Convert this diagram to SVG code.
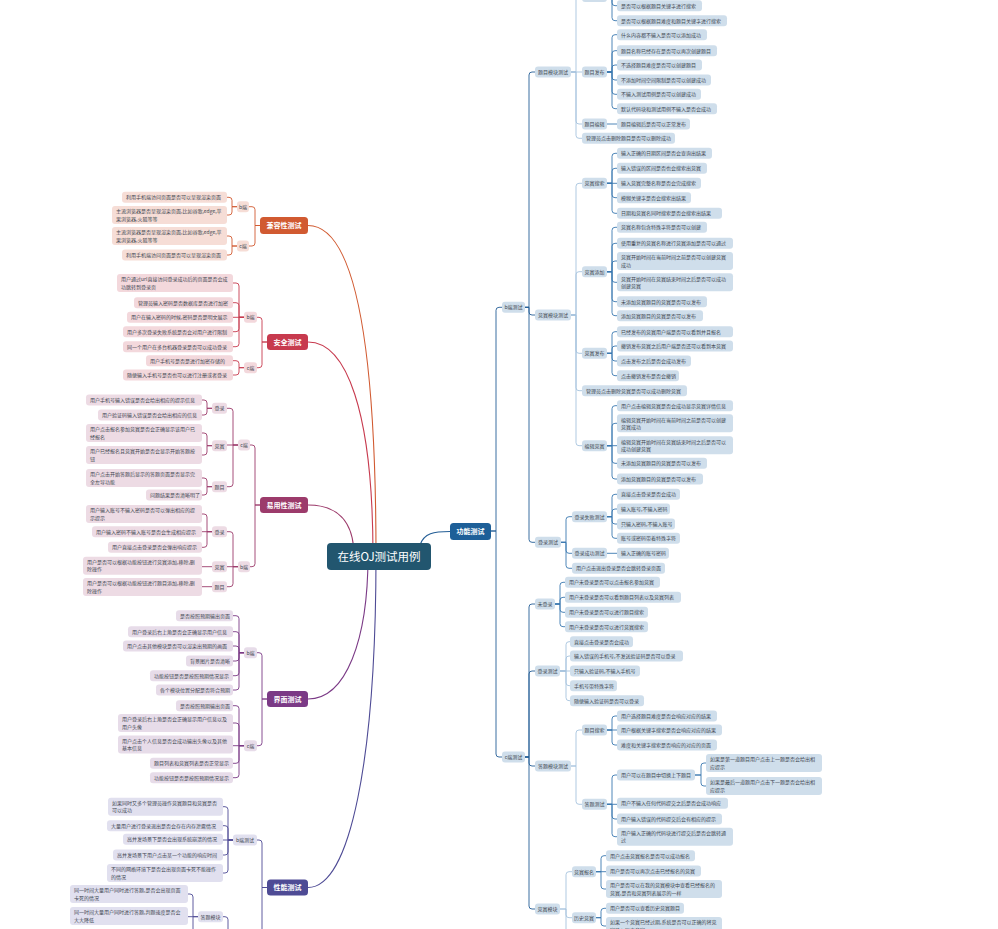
<svg xmlns="http://www.w3.org/2000/svg" width="998" height="929" viewBox="0 0 998 929">
<style>
text{font-family:"Noto Sans CJK SC","Noto Sans",sans-serif;}
.t{font-size:5px;fill:#3d4650;}
.tm{font-size:5px;fill:#3d4650;text-anchor:middle;}
.m{font-size:7px;fill:#fff;font-weight:bold;text-anchor:middle;}
.r{fill:#cfdeeb;}
.k{fill:#f6ddd6;}
.s{fill:#f3d8dc;}
.u{fill:#eddbe4;}
.i{fill:#e7dce9;}
.p{fill:#e1e0ef;}
.ln{fill:none;stroke-width:0.9;}
.mn{fill:none;stroke-width:1.1;}
.cd{stroke:#245e96;}
.cl{stroke:#a6c3de;}
.cm{stroke:#3a78b0;}
.ck{stroke:#d15a31;}
.cs{stroke:#c73a4e;}
.cu{stroke:#9c3b6b;}
.ci{stroke:#7b3a86;}
.cp{stroke:#4e4b95;}
</style>
<g id="connectors">
<path class="mn cd" d="M420 545C424 533 434 531.5 450 531.5"/>
<path class="mn ck" d="M308 225.5C352 225.5 376 330 376 556"/>
<path class="mn cs" d="M308 342C346 342 373 410 373 556"/>
<path class="mn cu" d="M308 505C336 505 354 520 354 556"/>
<path class="mn ci" d="M308 699C346 699 368 640 368 556"/>
<path class="mn cp" d="M308 887.5C350 887.5 376 760 376 556"/>
<path class="ln cd" d="M491 531H496V310.3Q496 307.3 499 307.3H502M491 531H496V754Q496 757 499 757H502M525 307.3H529V75Q529 72 532 72H535M525 307.3H529V312Q529 315 532 315H535M525 307.3H529V539.3Q529 542.3 532 542.3H535M525 757H529V607Q529 604 532 604H535M525 757H529V674Q529 671 532 671H535M525 757H529V763Q529 766 532 766H535M525 757H529V906Q529 909 532 909H535"/>
<path class="ln cl" d="M571 72H576V-0.5Q576 -3.5 579 -3.5H582M571 72H582M571 72H576V121Q576 124 579 124H582M571 72H576V135.3Q576 138.3 579 138.3H582M571 315H576V186.3Q576 183.3 579 183.3H582M571 315H576V274.7Q576 271.7 579 271.7H582M571 315H576V350.3Q576 353.3 579 353.3H582M571 315H576V387.7Q576 390.7 579 390.7H582M571 315H576V442.7Q576 445.7 579 445.7H582M571 766H576V733Q576 730 579 730H582M571 766H576V801.3Q576 804.3 579 804.3H582M560 671H566V644.7Q566 641.7 569 641.7H570M560 671H566V659Q566 656 569 656H570M560 671H570M560 671H566V682.7Q566 685.7 569 685.7H570M560 671H566V697.7Q566 700.7 569 700.7H570M560 909H566V874.7Q566 871.7 569 871.7H572M560 909H566V914.7Q566 917.7 569 917.7H572M566 909V935"/>
<path class="ln cm" d="M612 -15V2.7Q612 5.7 615 5.7H617M612 -15V17.7Q612 20.7 615 20.7H617M607 72H612V37.7Q612 34.7 615 34.7H617M607 72H612V53.7Q612 50.7 615 50.7H617M607 72H612V68Q612 65 615 65H617M607 72H612V77Q612 80 615 80H617M607 72H612V91.3Q612 94.3 615 94.3H617M607 72H612V105.7Q612 108.7 615 108.7H617M607 124H617M607 183.3H612V156.3Q612 153.3 615 153.3H617M607 183.3H612V171.3Q612 168.3 615 168.3H617M607 183.3H617M607 183.3H612V194.7Q612 197.7 615 197.7H617M607 183.3H612V210.3Q612 213.3 615 213.3H617M607 271.7H612V230.3Q612 227.3 615 227.3H617M607 271.7H612V246.3Q612 243.3 615 243.3H617M607 271.7H612V264Q612 261 615 261H617M607 271.7H612V279.3Q612 282.3 615 282.3H617M607 271.7H612V298.7Q612 301.7 615 301.7H617M607 271.7H612V312.7Q612 315.7 615 315.7H617M607 353.3H612V334.7Q612 331.7 615 331.7H617M607 353.3H612V349Q612 346 615 346H617M607 353.3H612V358Q612 361 615 361H617M607 353.3H612V372.7Q612 375.7 615 375.7H617M607 445.7H612V408.7Q612 405.7 615 405.7H617M607 445.7H612V426.3Q612 423.3 615 423.3H617M607 445.7H617M607 445.7H612V460.3Q612 463.3 615 463.3H617M607 445.7H612V476Q612 479 615 479H617M561 542.3H566V519.7Q566 516.7 569 516.7H572M561 542.3H566V550.3Q566 553.3 569 553.3H572M561 542.3H566V565.3Q566 568.3 569 568.3H572M607 516.7H612V497.3Q612 494.3 615 494.3H617M607 516.7H612V512Q612 509 615 509H617M607 516.7H612V521Q612 524 615 524H617M607 516.7H612V535.3Q612 538.3 615 538.3H617M607 553.3H617M555 604H560V585.3Q560 582.3 563 582.3H565M555 604H560V600.3Q560 597.3 563 597.3H565M555 604H560V609.3Q560 612.3 563 612.3H565M555 604H560V623.7Q560 626.7 563 626.7H565M607 730H612V719Q612 716 615 716H617M607 730H617M607 730H612V742Q612 745 615 745H617M607 804.3H612V778Q612 775 615 775H617M607 804.3H617M607 804.3H612V816Q612 819 615 819H617M607 804.3H612V833.7Q612 836.7 615 836.7H617M695 775H701V766Q701 763 704 763H706M695 775H701V783Q701 786 704 786H706M596 871.7H601V858.7Q601 855.7 604 855.7H606M596 871.7H606M596 871.7H601V886Q601 889 604 889H606M596 917.7H601V911.3Q601 908.3 604 908.3H606M596 917.7H601V923Q601 926 604 926H606"/>
<path class="ln ck" d="M260 225.5H255V209.7Q255 206.7 252 206.7H249M260 225.5H255V243Q255 246 252 246H249M237 206.7H232V200.3Q232 197.3 229 197.3H227M237 206.7H232V212Q232 215 229 215H227M237 246H232V239Q232 236 229 236H227M237 246H232V252Q232 255 229 255H227"/>
<path class="ln cs" d="M267 342H262V320.3Q262 317.3 259 317.3H257M267 342H262V364.7Q262 367.7 259 367.7H257M244 317.3H239V286Q239 283 236 283H233M244 317.3H239V305.7Q239 302.7 236 302.7H233M244 317.3H233M244 317.3H239V328.7Q239 331.7 236 331.7H233M244 317.3H239V343.7Q239 346.7 236 346.7H233M244 367.7H239V363.7Q239 360.7 236 360.7H233M244 367.7H239V372Q239 375 236 375H233"/>
<path class="ln cu" d="M260 505H255V448Q255 445 252 445H250M260 505H255V563.7Q255 566.7 252 566.7H250M238 445H233V411.3Q233 408.3 230 408.3H227M238 445H227M238 445H233V483.7Q233 486.7 230 486.7H227M212 408.3H207V403Q207 400 204 400H202M212 408.3H207V412Q207 415 204 415H202M212 445.7H207V436Q207 433 204 433H202M212 445.7H207V452Q207 455 204 455H202M212 486.7H207V481Q207 478 204 478H202M212 486.7H207V492Q207 495 204 495H202M238 566.7H233V534.7Q233 531.7 230 531.7H227M238 566.7H227M238 566.7H233V583.7Q233 586.7 230 586.7H227M212 531.7H207V517Q207 514 204 514H202M212 531.7H202M212 531.7H207V544.3Q207 547.3 204 547.3H202M212 566.7H202M212 586.7H202"/>
<path class="ln ci" d="M267 699H262V655.7Q262 652.7 259 652.7H257M267 699H262V742.7Q262 745.7 259 745.7H257M244 652.7H239V618.7Q239 615.7 236 615.7H233M244 652.7H239V634.7Q239 631.7 236 631.7H233M244 652.7H239V649Q239 646 236 646H233M244 652.7H239V658Q239 661 236 661H233M244 652.7H239V672.7Q239 675.7 236 675.7H233M244 652.7H239V687Q239 690 236 690H233M244 745.7H239V708.7Q239 705.7 236 705.7H233M244 745.7H239V726Q239 723 236 723H233M244 745.7H233M244 745.7H239V760.3Q239 763.3 236 763.3H233M244 745.7H239V774.7Q239 777.7 236 777.7H233"/>
<path class="ln cp" d="M267 887.5H262V843Q262 840 259 840H257M267 887.5H262V935M233 840H228V809.7Q228 806.7 225 806.7H223M233 840H228V828.7Q228 825.7 225 825.7H223M233 840H223M233 840H228V852Q228 855 225 855H223M233 840H228V870Q228 873 225 873H223M223 916.7H225Q228 916.7 228 919.7V935M198 916.7H193V897Q193 894 190 894H188M198 916.7H188M193 916.7V935"/>
</g>
<g id="root"><rect x="327" y="543" width="104" height="27" rx="4" fill="#22566f"/><text x="379" y="560.5" font-size="11.5" fill="#fff" text-anchor="middle">在线OJ测试用例</text></g>
<g id="func"><rect x="450" y="523" width="41" height="17" rx="3.5" fill="#1d5f98"/><text class="m" x="470.5" y="534">功能测试</text></g>
<g id="compat"><rect x="260" y="217" width="48" height="17" rx="3.5" fill="#d15a31"/><text class="m" x="284" y="228">兼容性测试</text></g>
<g id="security"><rect x="267" y="334" width="41" height="16" rx="3.5" fill="#c73a4e"/><text class="m" x="287.5" y="344.5">安全测试</text></g>
<g id="usability"><rect x="260" y="497" width="48" height="16" rx="3.5" fill="#9c3b6b"/><text class="m" x="284" y="507.5">易用性测试</text></g>
<g id="ui"><rect x="267" y="691" width="41" height="16" rx="3.5" fill="#7b3a86"/><text class="m" x="287.5" y="701.5">界面测试</text></g>
<g id="perf"><rect x="267" y="879.5" width="41" height="16" rx="3.5" fill="#4e4b95"/><text class="m" x="287.5" y="890">性能测试</text></g>

<g id="r-b"><rect class="r" x="502" y="301.8" width="23" height="11" rx="3"/><text class="tm" x="513.5" y="309.1">b端测试</text></g>
<g id="r-c"><rect class="r" x="502" y="751.5" width="23" height="11" rx="3"/><text class="tm" x="513.5" y="758.8">c端测试</text></g>
<g id="r-tmmod"><rect class="r" x="535" y="66.5" width="36" height="11" rx="3"/><text class="tm" x="553" y="73.8">题目模块测试</text></g>
<g id="r-tmsearch-top"><rect class="r" x="582" y="-9" width="25" height="11" rx="3"/></g>
<g id="r-ts1"><rect class="r" x="617" y="0.2" width="85" height="11" rx="3"/><text class="t" x="621" y="7.5">是否可以根据题目关键字进行搜索</text></g>
<g id="r-ts2"><rect class="r" x="617" y="15.2" width="110" height="11" rx="3"/><text class="t" x="621" y="22.5">是否可以根据题目难度和题目关键字进行搜索</text></g>
<g id="r-tpub"><rect class="r" x="582" y="66.5" width="25" height="11" rx="3"/><text class="tm" x="594.5" y="73.8">题目发布</text></g>
<g id="r-tp1"><rect class="r" x="617" y="29.2" width="90" height="11" rx="3"/><text class="t" x="621" y="36.5">什么内容都不输入是否可以添加成功</text></g>
<g id="r-tp2"><rect class="r" x="617" y="45.2" width="100" height="11" rx="3"/><text class="t" x="621" y="52.5">题目名称已经存在是否可以再次创建题目</text></g>
<g id="r-tp3"><rect class="r" x="617" y="59.5" width="85" height="11" rx="3"/><text class="t" x="621" y="66.8">不选择题目难度是否可以创建题目</text></g>
<g id="r-tp4"><rect class="r" x="617" y="74.5" width="94" height="11" rx="3"/><text class="t" x="621" y="81.8">不添加时间空间限制是否可以创建成功</text></g>
<g id="r-tp5"><rect class="r" x="617" y="88.8" width="84" height="11" rx="3"/><text class="t" x="621" y="96.1">不输入测试用例是否可以创建成功</text></g>
<g id="r-tp6"><rect class="r" x="617" y="103.2" width="100" height="11" rx="3"/><text class="t" x="621" y="110.5">默认代码块和测试用例不输入是否会成功</text></g>
<g id="r-tedit"><rect class="r" x="582" y="118.5" width="25" height="11" rx="3"/><text class="tm" x="594.5" y="125.8">题目编辑</text></g>
<g id="r-te1"><rect class="r" x="617" y="118.5" width="73" height="11" rx="3"/><text class="t" x="621" y="125.8">题目编辑后是否可以正常发布</text></g>
<g id="r-tdel"><rect class="r" x="582" y="132.8" width="93" height="11" rx="3"/><text class="t" x="586" y="140.1">管理员点击删除题目是否可以删除成功</text></g>

<g id="r-cmod"><rect class="r" x="535" y="309.5" width="36" height="11" rx="3"/><text class="tm" x="553" y="316.8">竞赛模块测试</text></g>
<g id="r-csearch"><rect class="r" x="582" y="177.8" width="25" height="11" rx="3"/><text class="tm" x="594.5" y="185.1">竞赛搜索</text></g>
<g id="r-cs1"><rect class="r" x="617" y="147.8" width="95" height="11" rx="3"/><text class="t" x="621" y="155.1">输入正确的日期区间是否会查询出结果</text></g>
<g id="r-cs2"><rect class="r" x="617" y="162.8" width="90" height="11" rx="3"/><text class="t" x="621" y="170.1">输入错误的区间是否也会搜索出竞赛</text></g>
<g id="r-cs3"><rect class="r" x="617" y="177.8" width="84" height="11" rx="3"/><text class="t" x="621" y="185.1">输入竞赛完整名称是否会完成搜索</text></g>
<g id="r-cs4"><rect class="r" x="617" y="192.2" width="74" height="11" rx="3"/><text class="t" x="621" y="199.5">模糊关键字是否会搜索出结果</text></g>
<g id="r-cs5"><rect class="r" x="617" y="207.8" width="105" height="11" rx="3"/><text class="t" x="621" y="215.1">日期和竞赛名同时搜索是否会搜索出结果</text></g>
<g id="r-cadd"><rect class="r" x="582" y="266.2" width="25" height="11" rx="3"/><text class="tm" x="594.5" y="273.5">竞赛添加</text></g>
<g id="r-ca1"><rect class="r" x="617" y="221.8" width="90" height="11" rx="3"/><text class="t" x="621" y="229.1">竞赛名称包含特殊字符是否可以创建</text></g>
<g id="r-ca2"><rect class="r" x="617" y="237.8" width="116" height="11" rx="3"/><text class="t" x="621" y="245.1">使用重复的竞赛名称进行竞赛添加是否可以通过</text></g>
<g id="r-ca3"><rect class="r" x="617" y="252" width="116" height="18" rx="3"/><text class="t" x="621" y="259.3">竞赛开始时间在当前时间之前是否可以创建竞赛</text><text class="t" x="621" y="266.5">成功</text></g>
<g id="r-ca4"><rect class="r" x="617" y="273.3" width="116" height="18" rx="3"/><text class="t" x="621" y="280.6">竞赛开始时间在竞赛结束时间之后是否可以成功</text><text class="t" x="621" y="287.8">创建竞赛</text></g>
<g id="r-ca5"><rect class="r" x="617" y="296.2" width="90" height="11" rx="3"/><text class="t" x="621" y="303.5">未添加竞赛题目的竞赛是否可以发布</text></g>
<g id="r-ca6"><rect class="r" x="617" y="310.2" width="86" height="11" rx="3"/><text class="t" x="621" y="317.5">添加竞赛题目的竞赛是否可以发布</text></g>
<g id="r-cpub"><rect class="r" x="582" y="347.8" width="25" height="11" rx="3"/><text class="tm" x="594.5" y="355.1">竞赛发布</text></g>
<g id="r-cp1"><rect class="r" x="617" y="326.2" width="116" height="11" rx="3"/><text class="t" x="621" y="333.5">已经发布的竞赛用户端是否可以看到并且报名</text></g>
<g id="r-cp2"><rect class="r" x="617" y="340.5" width="116" height="11" rx="3"/><text class="t" x="621" y="347.8">撤销发布竞赛之后用户端是否还可以看到本竞赛</text></g>
<g id="r-cp3"><rect class="r" x="617" y="355.5" width="74" height="11" rx="3"/><text class="t" x="621" y="362.8">点击发布之后是否会成功发布</text></g>
<g id="r-cp4"><rect class="r" x="617" y="370.2" width="62" height="11" rx="3"/><text class="t" x="621" y="377.5">点击撤销发布是否会撤销</text></g>
<g id="r-cdel"><rect class="r" x="582" y="385.2" width="105" height="11" rx="3"/><text class="t" x="586" y="392.5">管理员点击删除竞赛是否可以成功删除竞赛</text></g>
<g id="r-cedit"><rect class="r" x="582" y="440.2" width="25" height="11" rx="3"/><text class="tm" x="594.5" y="447.5">编辑竞赛</text></g>
<g id="r-ce1"><rect class="r" x="617" y="400.2" width="116" height="11" rx="3"/><text class="t" x="621" y="407.5">用户点击编辑竞赛是否会成功显示竞赛详情信息</text></g>
<g id="r-ce2"><rect class="r" x="617" y="414.3" width="116" height="18" rx="3"/><text class="t" x="621" y="421.6">编辑竞赛开始时间在当前时间之前是否可以创建</text><text class="t" x="621" y="428.8">竞赛成功</text></g>
<g id="r-ce3"><rect class="r" x="617" y="436.3" width="116" height="18" rx="3"/><text class="t" x="621" y="443.6">编辑竞赛开始时间在竞赛结束时间之后是否可以</text><text class="t" x="621" y="450.8">成功创建竞赛</text></g>
<g id="r-ce4"><rect class="r" x="617" y="457.8" width="90" height="11" rx="3"/><text class="t" x="621" y="465.1">未添加竞赛题目的竞赛是否可以发布</text></g>
<g id="r-ce5"><rect class="r" x="617" y="473.5" width="86" height="11" rx="3"/><text class="t" x="621" y="480.8">添加竞赛题目的竞赛是否可以发布</text></g>

<g id="r-blogin"><rect class="r" x="535" y="536.8" width="26" height="11" rx="3"/><text class="tm" x="548" y="544.1">登录测试</text></g>
<g id="r-lfail"><rect class="r" x="572" y="511.2" width="35" height="11" rx="3"/><text class="tm" x="589.5" y="518.5">登录失败测试</text></g>
<g id="r-lf1"><rect class="r" x="617" y="488.8" width="63" height="11" rx="3"/><text class="t" x="621" y="496.1">直接点击登录是否会成功</text></g>
<g id="r-lf2"><rect class="r" x="617" y="503.5" width="53" height="11" rx="3"/><text class="t" x="621" y="510.8">输入账号,不输入密码</text></g>
<g id="r-lf3"><rect class="r" x="617" y="518.5" width="58" height="11" rx="3"/><text class="t" x="621" y="525.8">只输入密码,不输入账号</text></g>
<g id="r-lf4"><rect class="r" x="617" y="532.8" width="63" height="11" rx="3"/><text class="t" x="621" y="540.1">账号或密码带着特殊字符</text></g>
<g id="r-lok"><rect class="r" x="572" y="547.8" width="35" height="11" rx="3"/><text class="tm" x="589.5" y="555.1">登录成功测试</text></g>
<g id="r-lo1"><rect class="r" x="617" y="547.8" width="52" height="11" rx="3"/><text class="t" x="621" y="555.1">输入正确的账号密码</text></g>
<g id="r-lout"><rect class="r" x="572" y="562.8" width="93" height="11" rx="3"/><text class="t" x="576" y="570.1">用户点击退出登录是否会跳转登录页面</text></g>

<g id="r-nologin"><rect class="r" x="535" y="598.5" width="20" height="11" rx="3"/><text class="tm" x="545" y="605.8">未登录</text></g>
<g id="r-nl1"><rect class="r" x="565" y="576.8" width="95" height="11" rx="3"/><text class="t" x="569" y="584.1">用户未登录是否可以点击报名参加竞赛</text></g>
<g id="r-nl2"><rect class="r" x="565" y="591.8" width="116" height="11" rx="3"/><text class="t" x="569" y="599.1">用户未登录是否可以看到题目列表以及竞赛列表</text></g>
<g id="r-nl3"><rect class="r" x="565" y="606.8" width="83" height="11" rx="3"/><text class="t" x="569" y="614.1">用户未登录是否可以进行题目搜索</text></g>
<g id="r-nl4"><rect class="r" x="565" y="621.2" width="83" height="11" rx="3"/><text class="t" x="569" y="628.5">用户未登录是否可以进行竞赛搜索</text></g>
<g id="r-clogin"><rect class="r" x="535" y="665.5" width="25" height="11" rx="3"/><text class="tm" x="547.5" y="672.8">登录测试</text></g>
<g id="r-cl1"><rect class="r" x="570" y="636.2" width="63" height="11" rx="3"/><text class="t" x="574" y="643.5">直接点击登录是否会成功</text></g>
<g id="r-cl2"><rect class="r" x="570" y="650.5" width="113" height="11" rx="3"/><text class="t" x="574" y="657.8">输入错误的手机号,不发送验证码是否可以登录</text></g>
<g id="r-cl3"><rect class="r" x="570" y="665.5" width="70" height="11" rx="3"/><text class="t" x="574" y="672.8">只输入验证码,不输入手机号</text></g>
<g id="r-cl4"><rect class="r" x="570" y="680.2" width="47" height="11" rx="3"/><text class="t" x="574" y="687.5">手机号带特殊字符</text></g>
<g id="r-cl5"><rect class="r" x="570" y="695.2" width="74" height="11" rx="3"/><text class="t" x="574" y="702.5">随便输入验证码是否可以登录</text></g>
<g id="r-ansmod"><rect class="r" x="535" y="760.5" width="36" height="11" rx="3"/><text class="tm" x="553" y="767.8">答题模块测试</text></g>
<g id="r-qsearch"><rect class="r" x="582" y="724.5" width="25" height="11" rx="3"/><text class="tm" x="594.5" y="731.8">题目搜索</text></g>
<g id="r-qs1"><rect class="r" x="617" y="710.5" width="100" height="11" rx="3"/><text class="t" x="621" y="717.8">用户选择题目难度是否会响应对应的结果</text></g>
<g id="r-qs2"><rect class="r" x="617" y="724.5" width="105" height="11" rx="3"/><text class="t" x="621" y="731.8">用户根据关键字搜索是否会响应对应的结果</text></g>
<g id="r-qs3"><rect class="r" x="617" y="739.5" width="100" height="11" rx="3"/><text class="t" x="621" y="746.8">难度和关键字搜索是否响应的对应的页面</text></g>
<g id="r-anstest"><rect class="r" x="582" y="798.8" width="25" height="11" rx="3"/><text class="tm" x="594.5" y="806.1">答题测试</text></g>
<g id="r-at1"><rect class="r" x="617" y="769.5" width="78" height="11" rx="3"/><text class="t" x="621" y="776.8">用户可以在题目中切换上下题目</text></g>
<g id="r-at1a"><rect class="r" x="706" y="754" width="116" height="18" rx="3"/><text class="t" x="710" y="761.3">如果是第一道题目用户点击上一题是否会给出相</text><text class="t" x="710" y="768.5">应提示</text></g>
<g id="r-at1b"><rect class="r" x="706" y="777" width="116" height="18" rx="3"/><text class="t" x="710" y="784.3">如果是最后一道题用户点击下一题是否会给出相</text><text class="t" x="710" y="791.5">应提示</text></g>
<g id="r-at2"><rect class="r" x="617" y="797.8" width="111" height="11" rx="3"/><text class="t" x="621" y="805.1">用户不输入任何代码提交之后是否会成功响应</text></g>
<g id="r-at3"><rect class="r" x="617" y="813.5" width="105" height="11" rx="3"/><text class="t" x="621" y="820.8">用户输入错误的代码提交后会有相应的提示</text></g>
<g id="r-at4"><rect class="r" x="617" y="827.7" width="116" height="18" rx="3"/><text class="t" x="621" y="835">用户输入正确的代码块进行提交后是否会跳转通</text><text class="t" x="621" y="842.2">过</text></g>
<g id="r-cmod2"><rect class="r" x="535" y="903.5" width="25" height="11" rx="3"/><text class="tm" x="547.5" y="910.8">竞赛模块</text></g>
<g id="r-csign"><rect class="r" x="572" y="866.2" width="24" height="11" rx="3"/><text class="tm" x="584" y="873.5">竞赛报名</text></g>
<g id="r-sg1"><rect class="r" x="606" y="850.2" width="89" height="11" rx="3"/><text class="t" x="610" y="857.5">用户点击竞赛报名是否可以成功报名</text></g>
<g id="r-sg2"><rect class="r" x="606" y="865.5" width="95" height="11" rx="3"/><text class="t" x="610" y="872.8">用户是否可以再次点击已经报名的竞赛</text></g>
<g id="r-sg3"><rect class="r" x="606" y="880" width="116" height="18" rx="3"/><text class="t" x="610" y="887.3">用户是否可以在我的竞赛模块中查看已经报名的</text><text class="t" x="610" y="894.5">竞赛,是否和竞赛列表展示的一样</text></g>
<g id="r-chist"><rect class="r" x="572" y="912.2" width="24" height="11" rx="3"/><text class="tm" x="584" y="919.5">历史竞赛</text></g>
<g id="r-hi1"><rect class="r" x="606" y="902.8" width="78" height="11" rx="3"/><text class="t" x="610" y="910.1">用户是否可以查看历史竞赛题目</text></g>
<g id="r-hi2"><rect class="r" x="606" y="917" width="116" height="18" rx="3"/><text class="t" x="610" y="924.3">如果一个竞赛已经过期,系统是否可以正确的将竞</text><text class="t" x="610" y="931.5">赛移入历史竞赛</text></g>

<g id="k-b"><rect class="k" x="237" y="201.2" width="12" height="11" rx="3"/><text class="tm" x="243" y="208.5">b端</text></g>
<g id="k-b1"><rect class="k" x="122" y="191.8" width="105" height="11" rx="3"/><text class="t" x="126" y="199.1">利用手机端访问页面是否可以呈现渲染页面</text></g>
<g id="k-b2"><rect class="k" x="112" y="206" width="115" height="18" rx="3"/><text class="t" x="116" y="213.3">主流浏览器是否呈现渲染页面,比如谷歌,edge,苹</text><text class="t" x="116" y="220.5">果浏览器,火狐等等</text></g>
<g id="k-c"><rect class="k" x="237" y="240.5" width="12" height="11" rx="3"/><text class="tm" x="243" y="247.8">c端</text></g>
<g id="k-c1"><rect class="k" x="112" y="227" width="115" height="18" rx="3"/><text class="t" x="116" y="234.3">主流浏览器是否呈现渲染页面,比如谷歌,edge,苹</text><text class="t" x="116" y="241.5">果浏览器,火狐等等</text></g>
<g id="k-c2"><rect class="k" x="122" y="249.5" width="105" height="11" rx="3"/><text class="t" x="126" y="256.8">利用手机端访问页面是否可以呈现渲染页面</text></g>

<g id="s-b"><rect class="s" x="244" y="311.8" width="13" height="11" rx="3"/><text class="tm" x="250.5" y="319.1">b端</text></g>
<g id="s-b1"><rect class="s" x="117" y="274" width="116" height="18" rx="3"/><text class="t" x="121" y="281.3">用户通过url直接访问登录成功后的页面是否会成</text><text class="t" x="121" y="288.5">功跳转到登录页</text></g>
<g id="s-b2"><rect class="s" x="134" y="297.2" width="99" height="11" rx="3"/><text class="t" x="138" y="304.5">管理员输入密码是否数据库是否进行加密</text></g>
<g id="s-b3"><rect class="s" x="127" y="311.8" width="106" height="11" rx="3"/><text class="t" x="131" y="319.1">用户在输入密码的时候,密码是否是明文展示</text></g>
<g id="s-b4"><rect class="s" x="123" y="326.2" width="110" height="11" rx="3"/><text class="t" x="127" y="333.5">用户多次登录失败系统是否会对用户进行限制</text></g>
<g id="s-b5"><rect class="s" x="123" y="341.2" width="110" height="11" rx="3"/><text class="t" x="127" y="348.5">同一个用户在多台机器登录是否可以成功登录</text></g>
<g id="s-c"><rect class="s" x="244" y="362.2" width="13" height="11" rx="3"/><text class="tm" x="250.5" y="369.5">c端</text></g>
<g id="s-c1"><rect class="s" x="146" y="355.2" width="87" height="11" rx="3"/><text class="t" x="150" y="362.5">用户手机号是否是进行加密存储的</text></g>
<g id="s-c2"><rect class="s" x="123" y="369.5" width="110" height="11" rx="3"/><text class="t" x="127" y="376.8">随便输入手机号是否也可以进行注册或者登录</text></g>

<g id="u-c"><rect class="u" x="238" y="439.5" width="12" height="11" rx="3"/><text class="tm" x="244" y="446.8">c端</text></g>
<g id="u-cl"><rect class="u" x="212" y="402.8" width="15" height="11" rx="3"/><text class="tm" x="219.5" y="410.1">登录</text></g>
<g id="u-cl1"><rect class="u" x="86" y="394.5" width="116" height="11" rx="3"/><text class="t" x="90" y="401.8">用户手机号输入错误是否会给出相应的提示信息</text></g>
<g id="u-cl2"><rect class="u" x="98" y="409.5" width="104" height="11" rx="3"/><text class="t" x="102" y="416.8">用户验证码输入错误是否会给出相应的信息</text></g>
<g id="u-cc"><rect class="u" x="212" y="440.2" width="15" height="11" rx="3"/><text class="tm" x="219.5" y="447.5">竞赛</text></g>
<g id="u-cc1"><rect class="u" x="86" y="424" width="116" height="18" rx="3"/><text class="t" x="90" y="431.3">用户点击报名参加竞赛是否会正确显示该用户已</text><text class="t" x="90" y="438.5">经报名</text></g>
<g id="u-cc2"><rect class="u" x="86" y="446" width="116" height="18" rx="3"/><text class="t" x="90" y="453.3">用户已经报名且竞赛开始是否会显示开始答题按</text><text class="t" x="90" y="460.5">钮</text></g>
<g id="u-ct"><rect class="u" x="212" y="481.2" width="15" height="11" rx="3"/><text class="tm" x="219.5" y="488.5">题目</text></g>
<g id="u-ct1"><rect class="u" x="86" y="469" width="116" height="18" rx="3"/><text class="t" x="90" y="476.3">用户点击开始答题后显示的答题页面是否显示完</text><text class="t" x="90" y="483.5">全左导功能</text></g>
<g id="u-ct2"><rect class="u" x="146" y="489.5" width="56" height="11" rx="3"/><text class="t" x="150" y="496.8">问题结果是否清晰明了</text></g>
<g id="u-b"><rect class="u" x="238" y="561.2" width="12" height="11" rx="3"/><text class="tm" x="244" y="568.5">b端</text></g>
<g id="u-bl"><rect class="u" x="212" y="526.2" width="15" height="11" rx="3"/><text class="tm" x="219.5" y="533.5">登录</text></g>
<g id="u-bl1"><rect class="u" x="86" y="505" width="116" height="18" rx="3"/><text class="t" x="90" y="512.3">用户输入账号不输入密码是否可以弹出相应的提</text><text class="t" x="90" y="519.5">示提示</text></g>
<g id="u-bl2"><rect class="u" x="92" y="526.2" width="110" height="11" rx="3"/><text class="t" x="96" y="533.5">用户输入密码不输入账号是否会生成相应提示</text></g>
<g id="u-bl3"><rect class="u" x="108" y="541.8" width="94" height="11" rx="3"/><text class="t" x="112" y="549.1">用户直接点击登录是否会弹出响应提示</text></g>
<g id="u-bc"><rect class="u" x="212" y="561.2" width="15" height="11" rx="3"/><text class="tm" x="219.5" y="568.5">竞赛</text></g>
<g id="u-bc1"><rect class="u" x="83" y="556.7" width="119" height="18" rx="3"/><text class="t" x="87" y="564">用户是否可以根据功能按钮进行竞赛添加,移除,删</text><text class="t" x="87" y="571.2">除操作</text></g>
<g id="u-bt"><rect class="u" x="212" y="581.2" width="15" height="11" rx="3"/><text class="tm" x="219.5" y="588.5">题目</text></g>
<g id="u-bt1"><rect class="u" x="83" y="578" width="119" height="18" rx="3"/><text class="t" x="87" y="585.3">用户是否可以根据功能按钮进行题目添加,移除,删</text><text class="t" x="87" y="592.5">除操作</text></g>

<g id="i-b"><rect class="i" x="244" y="647.2" width="13" height="11" rx="3"/><text class="tm" x="250.5" y="654.5">b端</text></g>
<g id="i-b1"><rect class="i" x="176" y="610.2" width="57" height="11" rx="3"/><text class="t" x="180" y="617.5">是否按照预期输出页面</text></g>
<g id="i-b2"><rect class="i" x="128" y="626.2" width="105" height="11" rx="3"/><text class="t" x="132" y="633.5">用户登录后右上角是否会正确显示用户信息</text></g>
<g id="i-b3"><rect class="i" x="123" y="640.5" width="110" height="11" rx="3"/><text class="t" x="127" y="647.8">用户点击其他模块是否可以渲染出预期的画面</text></g>
<g id="i-b4"><rect class="i" x="186" y="655.5" width="47" height="11" rx="3"/><text class="t" x="190" y="662.8">背景图片是否清晰</text></g>
<g id="i-b5"><rect class="i" x="150" y="670.2" width="83" height="11" rx="3"/><text class="t" x="154" y="677.5">功能按钮是否是按照预期情况显示</text></g>
<g id="i-b6"><rect class="i" x="156" y="684.5" width="77" height="11" rx="3"/><text class="t" x="160" y="691.8">各个模块位置分配是否符合预期</text></g>
<g id="i-c"><rect class="i" x="244" y="740.2" width="13" height="11" rx="3"/><text class="tm" x="250.5" y="747.5">c端</text></g>
<g id="i-c1"><rect class="i" x="176" y="700.2" width="57" height="11" rx="3"/><text class="t" x="180" y="707.5">是否按照预期输出页面</text></g>
<g id="i-c2"><rect class="i" x="118" y="714" width="115" height="18" rx="3"/><text class="t" x="122" y="721.3">用户登录后右上角是否会正确显示用户信息以及</text><text class="t" x="122" y="728.5">用户头像</text></g>
<g id="i-c3"><rect class="i" x="118" y="735.5" width="115" height="18" rx="3"/><text class="t" x="122" y="742.8">用户点击个人信息是否会成功输出头像以及其他</text><text class="t" x="122" y="750">基本信息</text></g>
<g id="i-c4"><rect class="i" x="150" y="757.8" width="83" height="11" rx="3"/><text class="t" x="154" y="765.1">题目列表和竞赛列表是否正常显示</text></g>
<g id="i-c5"><rect class="i" x="150" y="772.2" width="83" height="11" rx="3"/><text class="t" x="154" y="779.5">功能按钮是否是按照预期情况显示</text></g>

<g id="p-b"><rect class="p" x="233" y="834.5" width="24" height="11" rx="3"/><text class="tm" x="245" y="841.8">b端测试</text></g>
<g id="p-b1"><rect class="p" x="108" y="797.7" width="115" height="18" rx="3"/><text class="t" x="112" y="805">如果同时又多个管理员操作竞赛题目和竞赛是否</text><text class="t" x="112" y="812.2">可以成功</text></g>
<g id="p-b2"><rect class="p" x="107" y="820.2" width="116" height="11" rx="3"/><text class="t" x="111" y="827.5">大量用户进行登录退出是否会存在内存泄露情况</text></g>
<g id="p-b3"><rect class="p" x="123" y="833.8" width="100" height="11" rx="3"/><text class="t" x="127" y="841.1">高并发场景下是否会出现系统崩溃的情况</text></g>
<g id="p-b4"><rect class="p" x="113" y="849.5" width="110" height="11" rx="3"/><text class="t" x="117" y="856.8">高并发场景下用户点击某一个功能的响应时间</text></g>
<g id="p-b5"><rect class="p" x="107" y="864" width="116" height="18" rx="3"/><text class="t" x="111" y="871.3">不同的网络环境下是否会出现页面卡死不能操作</text><text class="t" x="111" y="878.5">的情况</text></g>
<g id="p-ans"><rect class="p" x="198" y="911.2" width="25" height="11" rx="3"/><text class="tm" x="210.5" y="918.5">答题模块</text></g>
<g id="p-a1"><rect class="p" x="70" y="885" width="118" height="18" rx="3"/><text class="t" x="74" y="892.3">同一时间大量用户同时进行答题,是否会出现页面</text><text class="t" x="74" y="899.5">卡死的情况</text></g>
<g id="p-a2"><rect class="p" x="70" y="907" width="118" height="18" rx="3"/><text class="t" x="74" y="914.3">同一时间大量用户同时进行答题,判题速度是否会</text><text class="t" x="74" y="921.5">大大降低</text></g>
</svg>
